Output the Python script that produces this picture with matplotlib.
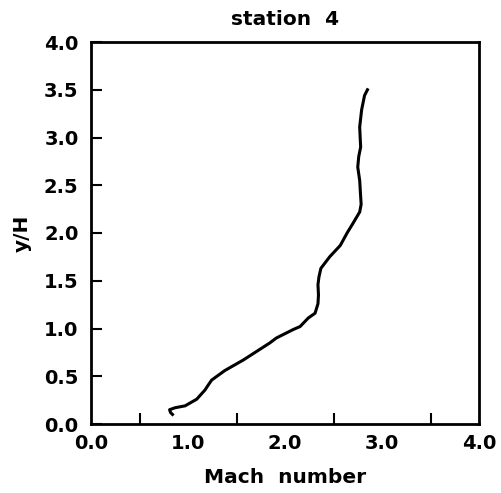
import matplotlib
matplotlib.use("Agg")
import matplotlib.pyplot as plt
from matplotlib.ticker import MultipleLocator, FixedLocator

mach = [0.84, 0.82, 0.81, 0.87, 0.97, 1.09, 1.175, 1.21, 1.244, 1.38, 1.57, 1.845, 1.91,
        2.086, 2.155, 2.24, 2.31, 2.34, 2.345, 2.34, 2.35, 2.37, 2.46, 2.57, 2.64, 2.70,
        2.77, 2.785, 2.78, 2.77, 2.75, 2.76, 2.78, 2.775, 2.77, 2.79, 2.82, 2.85]
yh = [0.10, 0.12, 0.15, 0.171, 0.19, 0.26, 0.356, 0.41, 0.46, 0.56, 0.67, 0.85, 0.90,
      0.99, 1.02, 1.11, 1.16, 1.26, 1.35, 1.46, 1.54, 1.63, 1.75, 1.87, 2.0, 2.1,
      2.22, 2.30, 2.38, 2.55, 2.69, 2.80, 2.90, 3.00, 3.11, 3.29, 3.44, 3.50]

xticks = [0.0, 1.0, 2.0, 3.0, 4.0]
xlabels = ["0.0", "1.0", "2.0", "3.0", "4.0"]
yticks = [0.0, 0.5, 1.0, 1.5, 2.0, 2.5, 3.0, 3.5, 4.0]
ylabels = ["0.0", "0.5", "1.0", "1.5", "2.0", "2.5", "3.0", "3.5", "4.0"]

plt.rcParams['font.family'] = ['DejaVu Sans']
plt.rcParams['font.weight'] = 'bold'

fig = plt.figure(figsize=(5.01, 4.93), dpi=100)
ax = fig.add_axes([91/501, 69/493, 388/501, 382/493])
ax.plot(mach, yh, color='black', lw=2.2)
ax.set_xlim(0, 4)
ax.set_ylim(0, 4)
ax.xaxis.set_major_locator(FixedLocator(xticks))
ax.set_xticklabels(xlabels)
ax.xaxis.set_minor_locator(MultipleLocator(0.5))
ax.yaxis.set_major_locator(FixedLocator(yticks))
ax.set_yticklabels(ylabels)
ax.tick_params(axis='both', which='both', direction='in', length=8, width=1.5,
               labelsize=14, top=False, right=False)
ax.tick_params(axis='x', which='major', length=0, pad=7)
ax.tick_params(axis='x', which='minor', length=8)
ax.tick_params(axis='y', pad=9)
for s in ax.spines.values():
    s.set_linewidth(2)
ax.set_xlabel("Mach  number", fontsize=14.5, fontweight='bold', labelpad=11)
ax.set_ylabel("y/H", fontsize=14.5, fontweight='bold', labelpad=9)
ax.set_title("station  4", fontsize=14.5, fontweight='bold', pad=12)
fig.savefig("out.png", dpi=100)
